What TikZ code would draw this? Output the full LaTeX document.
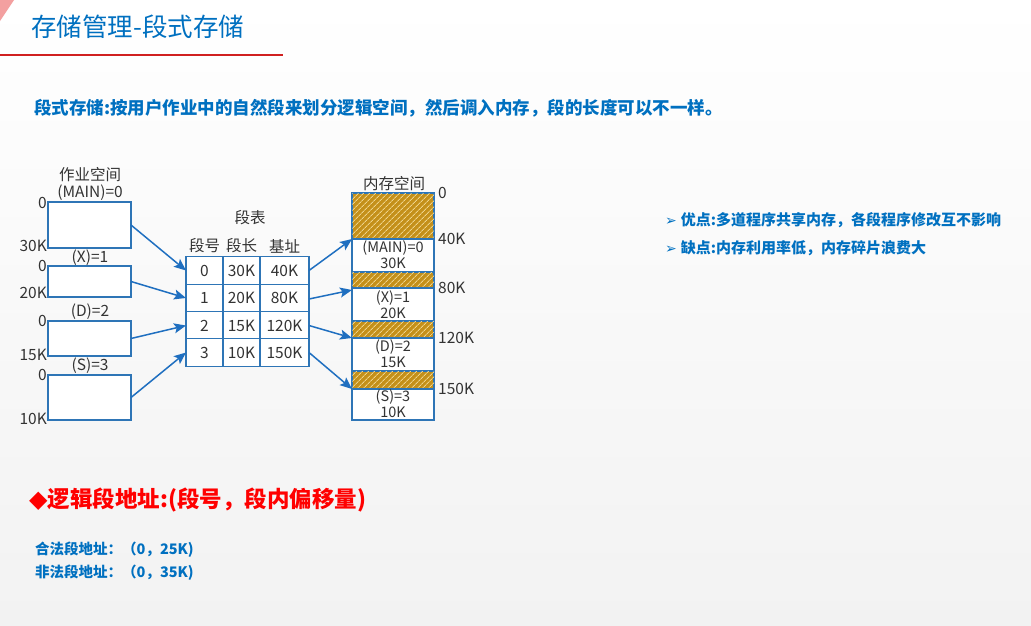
\documentclass[tikz,border=0pt]{standalone}
\usepackage{fontspec}
\setmainfont{Noto Sans CJK SC}
\newfontfamily\symfont{DejaVu Sans}
\usetikzlibrary{patterns.meta,arrows.meta}
\definecolor{titleblue}{HTML}{0070C0}
\definecolor{boxblue}{HTML}{2E75B6}
\definecolor{arrblue}{HTML}{1F6FC0}
\definecolor{gold}{HTML}{C4901A}
\definecolor{hatchline}{HTML}{EED38A}
\definecolor{txtgray}{HTML}{333333}
\definecolor{redline}{HTML}{D02020}
\definecolor{cornerpink}{HTML}{F3A0A0}
\definecolor{bgbottom}{HTML}{F2F2F2}
\tikzset{
  lbox/.style={draw=boxblue, line width=1.1pt, fill=white, minimum width=83pt, inner sep=0pt, outer sep=0pt},
  cell/.style={draw=boxblue, line width=1.1pt, fill=white, minimum height=27.5pt, inner sep=0pt, outer sep=0pt, text=txtgray, font=\fontsize{15.5}{18}\selectfont},
  memseg/.style={draw=boxblue, line width=1.1pt, fill=white, minimum width=82pt, inner sep=0pt, outer sep=0pt},
  hatchseg/.style={memseg, fill=gold, postaction={pattern={Lines[angle=45,distance=4pt,line width=1pt]}, pattern color=hatchline}},
  lbl/.style={text=txtgray, inner sep=0pt, font=\fontsize{15.5}{18}\selectfont},
  memtxt/.style={text=txtgray, inner sep=0pt, align=center, font=\fontsize{14.5}{16}\selectfont},
  conn/.style={draw=arrblue, line width=1.5pt, arrows={-Stealth[length=12pt,width=10pt,inset=2.5pt]}},
}
\begin{document}
\begin{tikzpicture}[x=1pt,y=-1pt]
\shade[top color=white, bottom color=bgbottom] (0,0) rectangle (1031,625);
\useasboundingbox (0,0) rectangle (1031,625);
% header
\fill[cornerpink] (0,0) -- (14,0) -- (0,21) -- cycle;
\node[anchor=west, inner sep=0pt, text=titleblue, font=\fontsize{25.5}{28}\selectfont] (title) at (31,27) {存储管理-段式存储};
\draw[redline, line width=1.3pt] (0,55) -- (283,55);
\node[anchor=west, inner sep=0pt, text=titleblue, font=\fontsize{17.5}{20}\selectfont\bfseries] (sub) at (34,108) {段式存储:按用户作业中的自然段来划分逻辑空间，然后调入内存，段的长度可以不一样。};
% left job space
\node[lbl] (jobtitle) at (90,175) {作业空间};
\node[lbl] (ln0) at (90,193) {(MAIN)=0};
\node[lbox, minimum height=46pt] (b0) at (89.5,225) {};
\node[lbl] (ln1) at (90,258) {(X)=1};
\node[lbox, minimum height=31pt] (b1) at (89.5,281.5) {};
\node[lbl] (ln2) at (90,312) {(D)=2};
\node[lbox, minimum height=35pt] (b2) at (89.5,338.5) {};
\node[lbl] (ln3) at (90,366) {(S)=3};
\node[lbox, minimum height=45pt] (b3) at (89.5,397.5) {};
\node[lbl, anchor=east] (b0t) at (47,203) {0};
\node[lbl, anchor=east] (b0b) at (47,246) {30K};
\node[lbl, anchor=east] (b1t) at (47,266) {0};
\node[lbl, anchor=east] (b1b) at (47,293) {20K};
\node[lbl, anchor=east] (b2t) at (47,321) {0};
\node[lbl, anchor=east] (b2b) at (47,355) {15K};
\node[lbl, anchor=east] (b3t) at (47,375) {0};
\node[lbl, anchor=east] (b3b) at (47,419) {10K};
% segment table
\node[lbl] (tabtitle) at (250,218) {段表};
\node[lbl] (h1) at (204.5,246) {段号};
\node[lbl] (h2) at (241.5,246) {段长};
\node[lbl] (h3) at (284.5,246) {基址};
\foreach \r/\y/\a/\b/\c in {0/270.5/0/30K/40K, 1/298/1/20K/80K, 2/325.5/2/15K/120K, 3/352.5/3/10K/150K}{
  \node[cell, minimum width=37pt] (t\r a) at (204.5,\y) {\a};
  \node[cell, minimum width=37pt] (t\r b) at (241.5,\y) {\b};
  \node[cell, minimum width=49pt] (t\r c) at (284.5,\y) {\c};
}
% memory
\node[lbl] (memtitle) at (394,184) {内存空间};
\node[hatchseg, minimum height=46pt] (m0) at (393,216) {};
\node[memseg, minimum height=33pt] (s0) at (393,255.5) {};
\node[hatchseg, minimum height=16pt] (m1) at (393,280) {};
\node[memseg, minimum height=33pt] (s1) at (393,304.5) {};
\node[hatchseg, minimum height=17pt] (m2) at (393,329.5) {};
\node[memseg, minimum height=33pt] (s2) at (393,354.5) {};
\node[hatchseg, minimum height=18pt] (m3) at (393,380) {};
\node[memseg, minimum height=31pt] (s3) at (393,404.5) {};
\node[memtxt] (s0t) at (393,255) {(MAIN)=0\\30K};
\node[memtxt] (s1t) at (393,304.5) {(X)=1\\20K};
\node[memtxt] (s2t) at (393,354) {(D)=2\\15K};
\node[memtxt] (s3t) at (393,404) {(S)=3\\10K};
\node[lbl, anchor=west] (a0) at (438,193) {0};
\node[lbl, anchor=west] (a40) at (438,239) {40K};
\node[lbl, anchor=west] (a80) at (438,288) {80K};
\node[lbl, anchor=west] (a120) at (438,338) {120K};
\node[lbl, anchor=west] (a150) at (438,389) {150K};
% connectors
\draw[conn] (b0.east) -- (t0a.west);
\draw[conn] (b1.east) -- (t1a.west);
\draw[conn] (b2.east) -- (t2a.west);
\draw[conn] (b3.east) -- (t3a.west);
\draw[conn] (t0c.east) -- (s0.north west);
\draw[conn] ([yshift=-1pt]t1c.east) -- ([yshift=-2pt]s1.north west);
\draw[conn] (t2c.east) -- (s2.north west);
\draw[conn] (t3c.east) -- (s3.north west);
% right bullets
\node[anchor=west, inner sep=0pt, text=titleblue, font=\fontsize{15}{18}\selectfont\bfseries] (p1) at (665,220) {{\symfont\fontsize{14}{16}\selectfont ➢}\hspace{4pt}优点:多道程序共享内存，各段程序修改互不影响};
\node[anchor=west, inner sep=0pt, text=titleblue, font=\fontsize{15}{18}\selectfont\bfseries] (p2) at (665,248) {{\symfont\fontsize{14}{16}\selectfont ➢}\hspace{4pt}缺点:内存利用率低，内存碎片浪费大};
% bottom
\node[anchor=west, inner sep=0pt, text=red, font=\fontsize{22.5}{26}\selectfont\bfseries] (addr) at (29,500) {{\symfont\fontsize{24}{26}\selectfont ◆}逻辑段地址:(段号，段内偏移量)};
\node[anchor=west, inner sep=0pt, text=titleblue, font=\fontsize{14.5}{17}\selectfont\bfseries] (ok) at (35,550) {合法段地址：（0，25K)};
\node[anchor=west, inner sep=0pt, text=titleblue, font=\fontsize{14.5}{17}\selectfont\bfseries] (bad) at (35,573) {非法段地址：（0，35K)};
\end{tikzpicture}
\end{document}
